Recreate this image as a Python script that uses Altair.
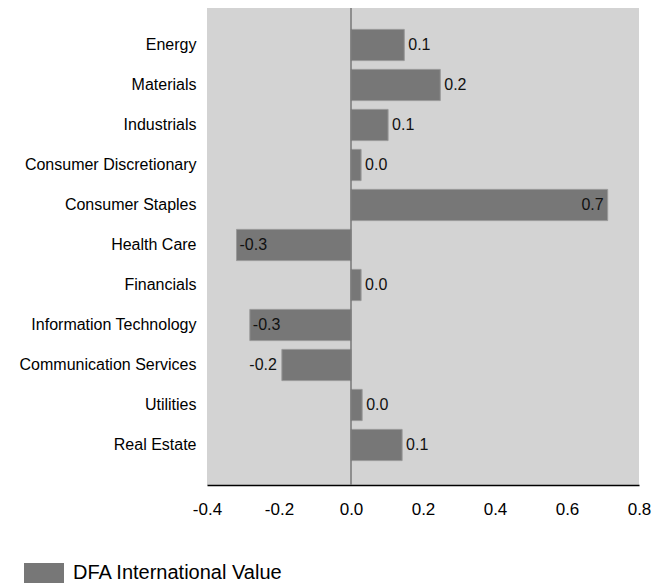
import altair as alt
import pandas as pd

sectors = ["Energy", "Materials", "Industrials", "Consumer Discretionary",
           "Consumer Staples", "Health Care", "Financials",
           "Information Technology", "Communication Services", "Utilities",
           "Real Estate"]
values = [0.148, 0.248, 0.103, 0.028, 0.713, -0.318, 0.028, -0.281, -0.192, 0.031, 0.142]
series_name = "DFA International Value"
x_ticks = [-0.4, -0.2, 0.0, 0.2, 0.4, 0.6, 0.8]

df = pd.DataFrame({"sector": sectors, "value": values, "series": [series_name] * len(sectors)})

FONT = "Liberation Sans"

y_enc = alt.Y("sector:N", sort=sectors, title=None,
              scale=alt.Scale(paddingInner=0.22, paddingOuter=0.61),
              axis=alt.Axis(domain=False, ticks=False, labelFontSize=16,
                            labelColor="#000000", labelPadding=11, labelFont=FONT,
                            labelLimit=300))
x_scale = alt.Scale(domain=[-0.4, 0.8], nice=False)

base = alt.Chart(df).encode(y=y_enc)

bars = base.mark_bar(stroke="#999999", strokeWidth=1).encode(
    x=alt.X("value:Q", scale=x_scale, title=None,
            axis=alt.Axis(values=x_ticks, grid=False, ticks=False, domainColor="#000000",
                          domainWidth=1.5, labelFontSize=17, labelColor="#000000",
                          labelFont=FONT, labelPadding=16, labelFlush=False,
                          labelOverlap=False,
                          labelExpr="replace(format(datum.value, '.1f'), '\u2212', '-')")),
    color=alt.Color("series:N", title=None,
                    scale=alt.Scale(domain=[series_name], range=["#777777"]),
                    legend=alt.Legend(orient="none", legendX=-183, legendY=548,
                                      symbolType="M-1,-0.5H1V0.5H-1Z", symbolSize=1600,
                                      symbolStrokeWidth=0, symbolOpacity=1,
                                      labelFontSize=20, labelFont=FONT, labelColor="#000000",
                                      labelOffset=9, labelLimit=400)),
)

zero = alt.Chart(pd.DataFrame({"z": [0.0]})).mark_rule(color="#777777", strokeWidth=1.5).encode(
    x=alt.X("z:Q", scale=x_scale)
)

lab = "replace(format(datum.value, '.1f'), '\u2212', '-')"

def text_layer(cond, align, dx):
    return base.transform_filter(cond).transform_calculate(label=lab).mark_text(
        align=align, baseline="middle", dx=dx, fontSize=16, font=FONT, color="#111111"
    ).encode(x=alt.X("value:Q", scale=x_scale), text="label:N")

t1 = text_layer("datum.value >= 0 && datum.value < 0.6", "left", 4)
t2 = text_layer("datum.value >= 0.6", "right", -4)
t3 = text_layer("datum.value < -0.25", "left", 3)
t4 = text_layer("datum.value < 0 && datum.value >= -0.25", "right", -5)

chart = alt.layer(bars, zero, t1, t2, t3, t4).properties(
    width=432, height=480,
    padding={"left": 11, "top": -4, "right": 5, "bottom": 5},
    background="#ffffff",
).configure_view(fill="#d3d3d3", stroke=None)

chart.save("out.html", embed_options={"renderer": "svg", "actions": False})
